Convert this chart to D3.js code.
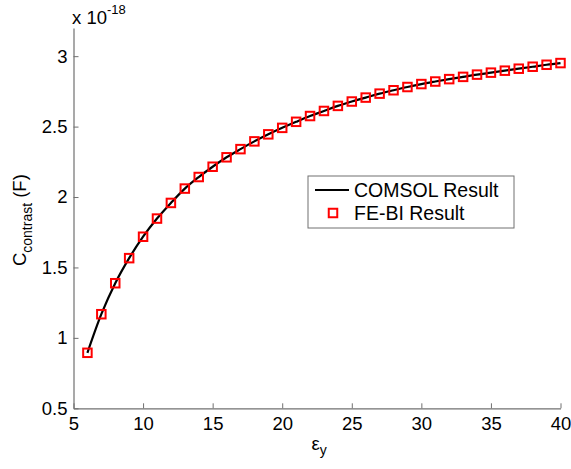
<!DOCTYPE html>
<html>
<head>
<meta charset="utf-8">
<script src="https://cdn.jsdelivr.net/npm/d3@7"></script>
<style>
  html, body { margin: 0; padding: 0; background: #fff; }
  svg { display: block; font-family: "Liberation Sans", Arial, Helvetica, sans-serif; }
</style>
</head>
<body>
<svg id="chart" width="571" height="469"></svg>
<script>
// Relative permittivity sweep (x) and contrast capacitance in units of 1e-18 F
const epsY = [6, 7, 8, 9, 10, 11, 12, 13, 14, 15, 16, 17, 18, 19, 20, 21, 22, 23,
  24, 25, 26, 27, 28, 29, 30, 31, 32, 33, 34, 35, 36, 37, 38, 39, 40];
const comsolValues = [0.894, 1.168, 1.388, 1.566, 1.718, 1.847, 1.958, 2.060, 2.142, 2.215,
  2.282, 2.340, 2.395, 2.445, 2.491, 2.534, 2.575, 2.611, 2.647, 2.678, 2.706, 2.734,
  2.758, 2.781, 2.802, 2.820, 2.837, 2.853, 2.869, 2.883, 2.897, 2.911, 2.925, 2.939, 2.951];
const febiValues = [0.894, 1.168, 1.388, 1.566, 1.718, 1.847, 1.958, 2.060, 2.142, 2.215,
  2.282, 2.340, 2.395, 2.445, 2.491, 2.534, 2.575, 2.611, 2.647, 2.678, 2.706, 2.734,
  2.758, 2.781, 2.802, 2.820, 2.837, 2.853, 2.869, 2.883, 2.897, 2.911, 2.925, 2.939, 2.951];
const xTicks = [5, 10, 15, 20, 25, 30, 35, 40];
const yTicks = [0.5, 1, 1.5, 2, 2.5, 3];
const seriesNames = ["COMSOL Result", "FE-BI Result"];

const svg = d3.select("#chart");
const plotLeft = 73.5, plotRight = 560.5, plotTop = 28, plotBottom = 408.3;
const fontSize = 18.5;

const x = d3.scaleLinear().domain([5, 40]).range([plotLeft, plotRight]);
const y = d3.scaleLinear().domain([0.5, 3.2]).range([plotBottom, plotTop]);

const axisColor = "#707070";

// Bottom axis, ticks pointing inward
const xAxis = svg.append("g")
  .attr("transform", `translate(0,${plotBottom})`)
  .call(d3.axisBottom(x).tickValues(xTicks).tickSize(-5).tickPadding(9).tickSizeOuter(0));
xAxis.select(".domain").attr("stroke", axisColor).attr("stroke-width", 1.2);
xAxis.selectAll(".tick line").attr("stroke", axisColor);
xAxis.selectAll(".tick text").attr("font-size", fontSize).attr("fill", "#000")
  .attr("font-family", "Liberation Sans, Arial, sans-serif");

// Left axis, ticks pointing inward
const yAxis = svg.append("g")
  .attr("transform", `translate(${plotLeft},0)`)
  .call(d3.axisLeft(y).tickValues(yTicks).tickSize(-5).tickPadding(6).tickSizeOuter(0)
    .tickFormat(d3.format("")));
yAxis.select(".domain").attr("stroke", axisColor).attr("stroke-width", 1.2);
yAxis.selectAll(".tick line").attr("stroke", axisColor);
yAxis.selectAll(".tick text").attr("font-size", fontSize).attr("fill", "#000")
  .attr("font-family", "Liberation Sans, Arial, sans-serif");

// Exponent multiplier above the y axis
const expo = svg.append("text").attr("x", 72).attr("y", 24)
  .attr("font-size", fontSize).attr("fill", "#000");
expo.append("tspan").text("x 10");
expo.append("tspan").attr("dy", -10).attr("font-size", 13).text("-18");

// Axis titles
const yTitle = svg.append("text")
  .attr("transform", `translate(26,${(plotTop + plotBottom) / 2 + 2}) rotate(-90)`)
  .attr("text-anchor", "middle").attr("font-size", fontSize).attr("fill", "#000");
yTitle.append("tspan").text("C");
yTitle.append("tspan").attr("dy", 6).attr("font-size", 14).text("contrast");
yTitle.append("tspan").attr("dy", -6).text(" (F)");

const xTitle = svg.append("text")
  .attr("x", (plotLeft + plotRight) / 2 + 2).attr("y", 450)
  .attr("text-anchor", "middle").attr("font-size", fontSize).attr("fill", "#000");
xTitle.append("tspan").text("ε");
xTitle.append("tspan").attr("dy", 5).attr("font-size", 14).text("y");

// COMSOL curve
const line = d3.line()
  .x((d, i) => x(epsY[i]))
  .y(d => y(d))
  .curve(d3.curveMonotoneX);
svg.append("path").datum(comsolValues)
  .attr("d", line).attr("fill", "none").attr("stroke", "#000").attr("stroke-width", 2.2);

// FE-BI markers
const ms = 8.5;
svg.append("g").selectAll("rect").data(febiValues).join("rect")
  .attr("x", (d, i) => x(epsY[i]) - ms / 2)
  .attr("y", d => y(d) - ms / 2)
  .attr("width", ms).attr("height", ms)
  .attr("fill", "none").attr("stroke", "#ff0000").attr("stroke-width", 2);

// Legend
const lg = svg.append("g");
lg.append("rect").attr("x", 308).attr("y", 176).attr("width", 206).attr("height", 52)
  .attr("fill", "#fff").attr("stroke", axisColor).attr("stroke-width", 1);
lg.append("line").attr("x1", 315).attr("x2", 349).attr("y1", 190).attr("y2", 190)
  .attr("stroke", "#000").attr("stroke-width", 2.2);
lg.append("rect").attr("x", 333 - ms / 2).attr("y", 213 - ms / 2)
  .attr("width", ms).attr("height", ms)
  .attr("fill", "none").attr("stroke", "#ff0000").attr("stroke-width", 2);
lg.selectAll("text").data(seriesNames).join("text")
  .attr("x", 354).attr("y", (d, i) => 197 + i * 23)
  .attr("font-size", 19.5).attr("fill", "#000").text(d => d);
</script>
</body>
</html>
